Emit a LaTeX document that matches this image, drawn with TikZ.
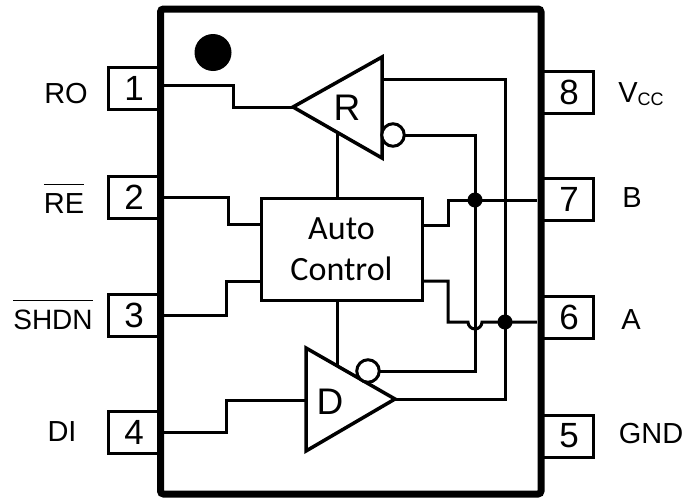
\documentclass[tikz,border=0pt]{standalone}
\usepackage{fontspec}
\setmainfont{Liberation Sans}
\newfontfamily\calfont{Carlito}
\newcommand{\barlabel}[1]{$\overline{\rule{0pt}{27pt}\hbox{#1}}$}
\tikzset{
  wire/.style={line width=3pt,line join=miter},
  pinbox/.style={draw,line width=3pt,outer sep=0pt,minimum width=52pt,minimum height=42pt,inner sep=0pt,font=\fontsize{35}{35}\selectfont},
  rightpin/.style={pinbox,execute at begin node={\hspace*{4pt}}},
  pinname/.style={anchor=base,inner sep=0pt,font=\fontsize{29}{29}\selectfont},
  amp/.style={draw,line width=3.5pt,line join=miter,fill=white},
  bubble/.style={circle,draw,line width=3pt,fill=white,outer sep=0pt,minimum size=22.5pt,inner sep=0pt},
  joint/.style={circle,fill,outer sep=0pt,inner sep=0pt,minimum size=15pt},
  ampname/.style={font=\fontsize{37}{37}\selectfont}
}
\begin{document}
\begin{tikzpicture}[x=1pt,y=-1pt]
  \useasboundingbox (0,0) rectangle (685,498);
  % pins
  \node[pinbox](p1)at(134,88){1};
  \node[pinbox](p2)at(134,197){2};
  \node[pinbox](p3)at(134,315){3};
  \node[pinbox](p4)at(134,432){4};
  \node[rightpin](p8)at(567,92){8};
  \node[rightpin](p7)at(567,199){7};
  \node[rightpin](p6)at(567,317){6};
  \node[rightpin](p5)at(567,436){5};
  \node[pinname](ro)at(66,103){RO};
  \node[pinname](re)at(64,213){\barlabel{RE}};
  \node[pinname,font=\fontsize{28}{28}\selectfont](shdn)at(53,329){\barlabel{SHDN}};
  \node[pinname](di)at(62,441){DI};
  \node[pinname](vcc)at(641,102){V{\fontsize{18}{18}\selectfont\raisebox{-3pt}{CC}}};
  \node[pinname](b)at(632,207){B};
  \node[pinname](a)at(631,329){A};
  \node[pinname](gnd)at(651,443){GND};
  % package
  \node[draw,line width=7pt,outer sep=0pt,rounded corners=3pt,minimum width=380.5pt,minimum height=485pt,inner sep=0pt](chip)at(350.75,251.5){};
  \node[circle,fill,outer sep=0pt,inner sep=0pt,minimum size=37pt](dot)at(213,52.5){};
  \node[draw,line width=3pt,outer sep=0pt,minimum width=161pt,minimum height=102pt,inner sep=0pt,align=center,font=\calfont\fontsize{34}{41}\selectfont](ctrl)at(341.5,249.7){Auto\\Control};
  % drivers
  \coordinate(rtip)at(293,107);
  \coordinate(rtop)at(382,57);
  \coordinate(rbot)at(382,158);
  \coordinate(dtip)at(395,399);
  \coordinate(dtop)at(306,348);
  \coordinate(dbot)at(306,451);
  \coordinate(rfoot)at(337,133);
  \coordinate(dhead)at(337,366);
  \draw[wire](rfoot)--(rfoot|-ctrl.north);
  \draw[wire](dhead)--(dhead|-ctrl.south);
  \draw[amp](rtip)--(rtop)--(rbot)--cycle;
  \draw[amp](dtip)--(dtop)--(dbot)--cycle;
  \node[ampname](rname)at(347,108){R};
  \node[ampname](dname)at(330,402){D};
  \node[joint](j7)at(475,200){};
  \node[joint](j6)at(505,322){};
  % left side wires
  \draw[wire](164,85)coordinate(w1)-|(233,107)--(rtip);
  \draw[wire](164,197)coordinate(w2)-|(228,224)--(ctrl.west|-0,224);
  \draw[wire](164,315)coordinate(w3)-|(226,281)--(ctrl.west|-0,281);
  \draw[wire](164,432)coordinate(w4)-|(226,400)--(306,400);
  % bus wires
  \node[bubble](rinv)at(393,135){};
  \node[bubble](dinv)at(368,371){};
  \draw[wire](382,79)-|(j6.center);
  \draw[wire](dtip)-|(j6.center);
  \draw[wire](rinv)-|(j7.center);
  \draw[wire](dinv)-|(j7.center);
  \draw[wire](ctrl.east|-0,225)-|(448,200)--(537,200);
  \draw[wire](ctrl.east|-0,281)-|(448,322)--(468,322)arc[start angle=180,end angle=0,radius=7]--(537,322);
\end{tikzpicture}
\end{document}
